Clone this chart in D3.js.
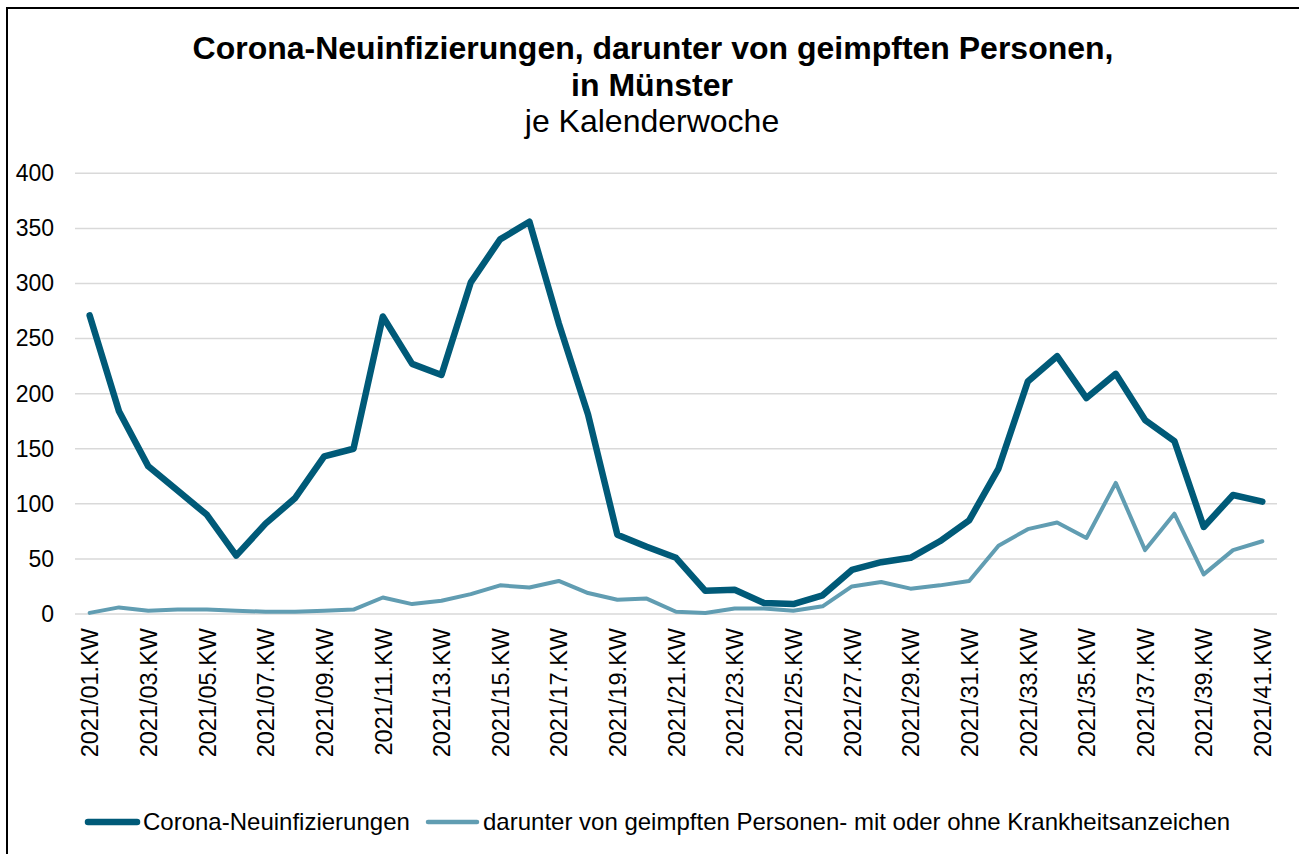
<!DOCTYPE html>
<html><head><meta charset="utf-8">
<script src="https://cdn.jsdelivr.net/npm/d3@7"></script>
<style>body{margin:0;background:#fff}svg{display:block;font-family:"Liberation Sans",Arial,sans-serif}</style>
</head><body><svg id="c" width="1299" height="854"></svg>
<script>
const weeks = d3.range(1, 42).map(w => "2021/" + String(w).padStart(2, "0") + ".KW");
const totalCases = [271,184,134,112,90,53,82,105,143,150,270,227,217,301,340,356,264,181,72,61,51,21,22,10,9,17,40,47,51,66,85,132,211,234,196,218,176,157,79,108,102];
const vaccinatedCases = [1,6,3,4,4,3,2,2,3,4,15,9,12,18,26,24,30,19,13,14,2,1,5,5,3,7,25,29,23,26,30,62,77,83,69,119,58,91,36,58,66];
const yTicks = [0,50,100,150,200,250,300,350,400];
const seriesNames = ["Corona-Neuinfizierungen","darunter von geimpften Personen- mit oder ohne Krankheitsanzeichen"];
const titleLines = ["Corona-Neuinfizierungen, darunter von geimpften Personen,","in Münster"];
const subtitle = "je Kalenderwoche";

const svg = d3.select("#c");
const dark = "#005a78", light = "#619db2";
svg.append("rect").attr("x",7).attr("y",8).attr("width",1400).attr("height",1000).attr("fill","#fff").attr("stroke","#000").attr("stroke-width",2);

const x = d3.scalePoint().domain(weeks).range([75,1277]).padding(0.5);
const y = d3.scaleLinear().domain([0,400]).range([614,173.3]);

svg.append("g").selectAll("line").data(yTicks).join("line")
  .attr("x1",75).attr("x2",1277).attr("y1",d=>y(d)).attr("y2",d=>y(d))
  .attr("stroke","#d9d9d9").attr("stroke-width",1.5);

const ya = svg.append("g").attr("transform","translate(60,0)")
  .call(d3.axisLeft(y).tickValues(yTicks).tickSize(0).tickPadding(0));
ya.select(".domain").remove();
ya.selectAll("text").attr("font-size",23).attr("fill","#000").attr("font-family","Liberation Sans, Arial, sans-serif").attr("x",-6);

const xa = svg.append("g").attr("transform","translate(0,614)")
  .call(d3.axisBottom(x).tickValues(weeks.filter((w,i)=>i%2===0)).tickSize(0));
xa.select(".domain").remove();
xa.selectAll("text").attr("font-size",23.5).attr("fill","#000").attr("font-family","Liberation Sans, Arial, sans-serif")
  .attr("transform","rotate(-90)").attr("text-anchor","end").attr("dy","0.35em").attr("x",-14).attr("y",0);

const line = d3.line().x((d,i)=>x(weeks[i])).y(d=>y(d));
svg.append("path").datum(vaccinatedCases).attr("d",line).attr("fill","none").attr("stroke",light).attr("stroke-width",4).attr("stroke-linejoin","round").attr("stroke-linecap","round");
svg.append("path").datum(totalCases).attr("d",line).attr("fill","none").attr("stroke",dark).attr("stroke-width",6.5).attr("stroke-linejoin","round").attr("stroke-linecap","round");

const t = svg.append("g").attr("text-anchor","middle").attr("fill","#000");
t.append("text").attr("x",653).attr("y",59).attr("font-size",32).attr("font-weight","bold").text(titleLines[0]);
t.append("text").attr("x",652).attr("y",96).attr("font-size",32).attr("font-weight","bold").text(titleLines[1]);
t.append("text").attr("x",652).attr("y",132).attr("font-size",32).text(subtitle);

const lg = svg.append("g");
const items = [{x:85,c:dark,w:6.5,name:seriesNames[0]},{x:425,c:light,w:4.5,name:seriesNames[1]}];
items.forEach(it=>{
  lg.append("line").attr("x1",it.x+3).attr("x2",it.x+52).attr("y1",822).attr("y2",822).attr("stroke",it.c).attr("stroke-width",it.w).attr("stroke-linecap","round");
  lg.append("text").attr("x",it.x+58).attr("y",822).attr("dy","0.35em").attr("font-size",24).attr("fill","#000").text(it.name);
});
</script></body></html>
